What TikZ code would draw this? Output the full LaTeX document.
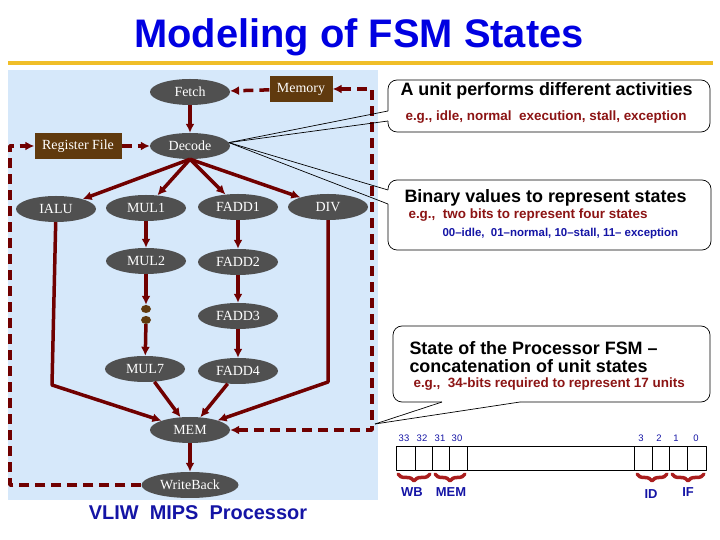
\documentclass[tikz,border=0pt]{standalone}
\usepackage{fontspec}
\setmainfont{Liberation Serif}
\setsansfont{Liberation Sans}
\usetikzlibrary{arrows.meta,shapes.geometric,decorations.pathreplacing}
\definecolor{panelblue}{RGB}{214,232,250}
\definecolor{titleblue}{RGB}{0,0,225}
\definecolor{rulegold}{RGB}{240,190,40}
\definecolor{stategray}{RGB}{80,80,80}
\definecolor{unitbrown}{RGB}{96,58,14}
\definecolor{flowred}{RGB}{112,0,0}
\definecolor{egred}{RGB}{140,20,20}
\definecolor{codeblue}{RGB}{20,20,165}
\definecolor{bracered}{RGB}{170,30,30}
\begin{document}
\begin{tikzpicture}[>={Latex[length=9bp,width=9bp]},line join=bevel,
    state/.style={ellipse,fill=stategray,text=white,minimum width=80bp,minimum height=26bp,inner sep=0pt,font=\fontsize{14}{16}\selectfont},
    unit/.style={rectangle,fill=unitbrown,text=white,minimum height=26bp,inner sep=0pt,font=\fontsize{14}{16}\selectfont},
    dot/.style={ellipse,fill=unitbrown,minimum width=10bp,minimum height=8bp,inner sep=0pt},
    flow/.style={->,draw=flowred,line width=3.5bp},
    dflow/.style={flow,dash pattern=on 10bp off 6bp},
    note/.style={draw,rounded corners=9bp,fill=white,line width=0.7bp,inner sep=0pt},
    ptr/.style={draw=black,line width=0.7bp},
    head/.style={anchor=base west,font=\sffamily\bfseries\fontsize{18}{20}\selectfont},
    eg/.style={anchor=base west,text=egred,font=\sffamily\bfseries\fontsize{13.5}{15}\selectfont},
    code/.style={anchor=base west,text=codeblue,font=\sffamily\bfseries\fontsize{11.5}{13}\selectfont},
    bitno/.style={text=codeblue,font=\sffamily\fontsize{9.5}{11}\selectfont},
    field/.style={anchor=base,text=codeblue,font=\sffamily\bfseries\fontsize{13}{15}\selectfont},
    brace/.style={decorate,decoration={brace,mirror,amplitude=7bp},draw=bracered,line width=3.5bp,line cap=round},
  ]
    \useasboundingbox (0bp,0bp) rectangle (720bp,540bp);
    %% title and panel
    \node (title) at (359bp,492bp) [anchor=base,text=titleblue,font=\sffamily\bfseries\fontsize{40}{48}\selectfont] {Modeling of FSM States};
    \draw [rulegold,line width=4bp] (8bp,477bp) -- (713bp,477bp);
    \fill [panelblue] (8bp,40bp) rectangle (378bp,470bp);
    %% pipeline states
    \node (Fetch) at (190bp,448bp) [state] {Fetch};
    \node (Memory) at (301bp,451bp) [unit,minimum width=63bp] {Memory};
    \node (RegFile) at (78bp,394bp) [unit,minimum width=87bp] {Register File};
    \node (Decode) at (190bp,394bp) [state] {Decode};
    \node (IALU) at (56bp,331bp) [state] {IALU};
    \node (MUL1) at (146bp,332bp) [state] {MUL1};
    \node (FADD1) at (238bp,333bp) [state] {FADD1};
    \node (DIV) at (328bp,333bp) [state] {DIV};
    \node (MUL2) at (146bp,279bp) [state] {MUL2};
    \node (FADD2) at (238bp,278bp) [state] {FADD2};
    \node (dotA) at (146bp,231bp) [dot] {};
    \node (dotB) at (146bp,220bp) [dot] {};
    \node (FADD3) at (238bp,224bp) [state] {FADD3};
    \node (MUL7) at (145bp,171bp) [state] {MUL7};
    \node (FADD4) at (238bp,169bp) [state] {FADD4};
    \node (MEM) at (190bp,110bp) [state] {MEM};
    \node (WriteBack) at (190bp,55bp) [state,minimum width=97bp] {WriteBack};
    \node (vliw) at (198bp,21bp) [anchor=base,text=codeblue,font=\sffamily\bfseries\fontsize{20}{24}\selectfont] {VLIW\ \ MIPS\ \ Processor};
    \coordinate (ialuC) at (52bp,155bp);
    \coordinate (divC) at (328bp,158bp);
    \coordinate (leftC) at (10bp,394bp);
    \coordinate (rightC) at (372bp,451bp);
    %% solid flow
    \draw [flow] (Fetch) -- (Decode);
    \draw [flow] (Decode.south) -- (IALU);
    \draw [flow] (Decode.south) -- (MUL1);
    \draw [flow] (Decode.south) -- (FADD1);
    \draw [flow] (Decode.south) -- (DIV);
    \draw [flow] (MUL1) -- (MUL2);
    \draw [flow] (MUL2) -- (dotA);
    \draw [flow] (dotB) -- (MUL7);
    \draw [flow] (FADD1) -- (FADD2);
    \draw [flow] (FADD2) -- (FADD3);
    \draw [flow] (FADD3) -- (FADD4);
    \draw [flow] (IALU) -- (ialuC) -- (MEM);
    \draw [flow] (MUL7) -- (MEM);
    \draw [flow] (FADD4) -- (MEM);
    \draw [flow] (DIV) -- (divC) -- (MEM);
    \draw [flow] (MEM) -- (WriteBack);
    %% dashed flow
    \draw [dflow] (Memory) -- (Fetch);
    \draw [dflow] (RegFile) -- (Decode);
    \draw [dflow] (WriteBack.west) -| (leftC) -- (RegFile);
    \draw [dflow,<->] (MEM) -| (rightC) -- (Memory);
    %% callouts
    \node (noteA) at (549bp,434bp) [note,minimum width=322bp,minimum height=52bp] {};
    \node (noteB) at (549.5bp,325bp) [note,minimum width=323bp,minimum height=70bp] {};
    \node (noteC) at (551.5bp,176bp) [note,minimum width=317bp,minimum height=76bp] {};
    \coordinate (pA1) at (388bp,429bp);
    \coordinate (pA2) at (388bp,419bp);
    \coordinate (pB1) at (388bp,350bp);
    \coordinate (pB2) at (388bp,336bp);
    \coordinate (pC1) at (442bp,138bp);
    \coordinate (pC2) at (520bp,138bp);
    \coordinate (tipC) at (375bp,116bp);
    \draw [white,line width=1.6bp] (pA1) -- (pA2);
    \draw [white,line width=1.6bp] (pB1) -- (pB2);
    \draw [white,line width=1.6bp] (pC1) -- (pC2);
    \draw [ptr] (Decode.5) -- (pA1);
    \draw [ptr] (Decode.5) -- (pA2);
    \draw [ptr] (Decode.5) -- (pB1);
    \draw [ptr] (Decode.5) -- (pB2);
    \draw [ptr] (tipC) -- (pC1);
    \draw [ptr] (tipC) -- (pC2);
    \node (headA) at (397bp,444bp) [head] {A unit performs different activities};
    \node (egA) at (402bp,419bp) [eg] {e.g., idle, normal\ \ execution, stall, exception};
    \node (headB) at (401bp,337bp) [head] {Binary values to represent states};
    \node (egB) at (405bp,321bp) [eg] {e.g.,\ \ two bits to represent four states};
    \node (codeB) at (439bp,303bp) [code] {00–idle,\ \ 01–normal, 10–stall, 11– exception};
    \node (headC) at (406bp,185bp) [head] {State of the Processor FSM –};
    \node (headC2) at (406bp,167bp) [head] {concatenation of unit states};
    \node (egC) at (410bp,152bp) [eg] {e.g.,\ \ 34-bits required to represent 17 units};
    %% state bit field
    \draw [line width=0.8bp] (396bp,70bp) rectangle (706bp,94bp);
    \foreach \x in {415,432,449,467,634,652,669,687}
      \draw [line width=0.8bp] (\x bp,70bp) -- (\x bp,94bp);
    \foreach \x/\b in {404/33,422/32,440/31,457/30,641/3,659/2,676/1,696/0}
      \node (bit\b) at (\x bp,102bp) [bitno] {\b};
    \draw [brace] (398bp,66bp) -- (430bp,66bp);
    \draw [brace] (435bp,66bp) -- (465bp,66bp);
    \draw [brace] (637bp,66bp) -- (667bp,66bp);
    \draw [brace] (672bp,66bp) -- (704bp,66bp);
    \node (fWB) at (412bp,43bp) [field] {WB};
    \node (fMEM) at (451bp,43bp) [field] {MEM};
    \node (fID) at (651bp,41bp) [field] {ID};
    \node (fIF) at (688bp,43bp) [field] {IF};
    %
\end{tikzpicture}
\end{document}
